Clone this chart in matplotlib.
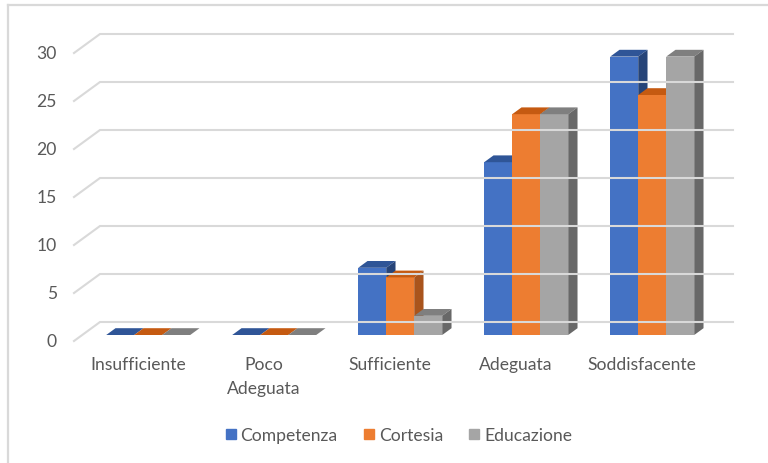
import matplotlib.pyplot as plt
from matplotlib.patches import Polygon
from matplotlib.lines import Line2D

plt.rcParams['font.family'] = 'Lato'

categories = ['Insufficiente', 'Poco\nAdeguata', 'Sufficiente', 'Adeguata', 'Soddisfacente']
series = ['Competenza', 'Cortesia', 'Educazione']
competenza = [0, 0, 7, 18, 29]
cortesia = [0, 0, 6, 23, 25]
educazione = [0, 0, 2, 23, 29]
values = [competenza, cortesia, educazione]
yticks = [0, 5, 10, 15, 20, 25, 30]

face_col = ['#4472C4', '#ED7D31', '#A5A5A5']
top_col = ['#2F5597', '#C55A11', '#7F7F7F']
side_col = ['#264478', '#A9541C', '#686868']
grid_col = '#D9D9D9'
text_col = '#595959'
fs = 12.6

# pixel scale of one category step and one value unit
PXC = 126.0
PXV = 9.6
W = 28 / PXC            # bar width in category units


def depth(t):
    # oblique offset going back into the chart (t=0 front, t=1 back wall)
    return 26 * t / PXC, 19 * t / PXV


fig = plt.figure(figsize=(7.68, 4.64), dpi=100)
ax = fig.add_axes([0, 0, 1, 1])
ax.set_xlim(-140 / PXC, (768 - 140) / PXC)
ax.set_ylim(-122 / PXV, 342 / PXV)
ax.axis('off')

# outer frame (top and left edges)
fx, fy = 8 / 768, 1 - 6 / 464
ax.plot([fx, 1], [fy, fy], color=grid_col, lw=1.6, transform=ax.transAxes)
ax.plot([fx, fx], [0, fy], color=grid_col, lw=1.6, transform=ax.transAxes)

# gridlines on the back wall plus the diagonals on the side wall
x_left = -66 / PXC
x_right = (733 - 26 - 140) / PXC
bx, by = depth(1)
for v in yticks:
    ax.plot([x_left, x_left + bx, x_right + bx], [v, v + by, v + by],
            color=grid_col, lw=1.5, solid_joinstyle='miter')
    ax.text(x_left - 17 / PXC, v, str(v), ha='right', va='center',
            color=text_col, fontsize=fs)

# bars, drawn left to right so nearer faces overlap
t0, t1 = 6 / 19, 12.8 / 19
fx0, fy0 = depth(t0)
dx, dy = depth(t1 - t0)
for i in range(len(categories)):
    for s in range(len(series)):
        v = values[s][i]
        x0 = i + fx0 - 1.5 * W + s * W
        x1 = x0 + W
        y0, y1 = fy0, fy0 + v
        ax.add_patch(Polygon([(x0, y0), (x1, y0), (x1, y1), (x0, y1)],
                             closed=True, fc=face_col[s], ec='none'))
        ax.add_patch(Polygon([(x0, y1), (x1, y1), (x1 + dx, y1 + dy), (x0 + dx, y1 + dy)],
                             closed=True, fc=top_col[s], ec='none'))
        ax.add_patch(Polygon([(x1, y0), (x1 + dx, y0 + dy), (x1 + dx, y1 + dy), (x1, y1)],
                             closed=True, fc=side_col[s], ec='none'))

for i, c in enumerate(categories):
    ax.text(i - 2 / PXC, -1.6, c, ha='center', va='top', color=text_col,
            fontsize=fs, linespacing=1.6)

handles = [Line2D([], [], marker='s', ls='', color=face_col[s], markersize=6.5)
           for s in range(len(series))]
ax.legend(handles, series, loc='center', bbox_to_anchor=(397 / 768, 1 - 436 / 464),
          ncol=3, frameon=False, handletextpad=0.05, columnspacing=1.3,
          handlelength=1.0, labelcolor=text_col, fontsize=fs,
          bbox_transform=ax.transAxes)

fig.savefig('out.png', dpi=100)
